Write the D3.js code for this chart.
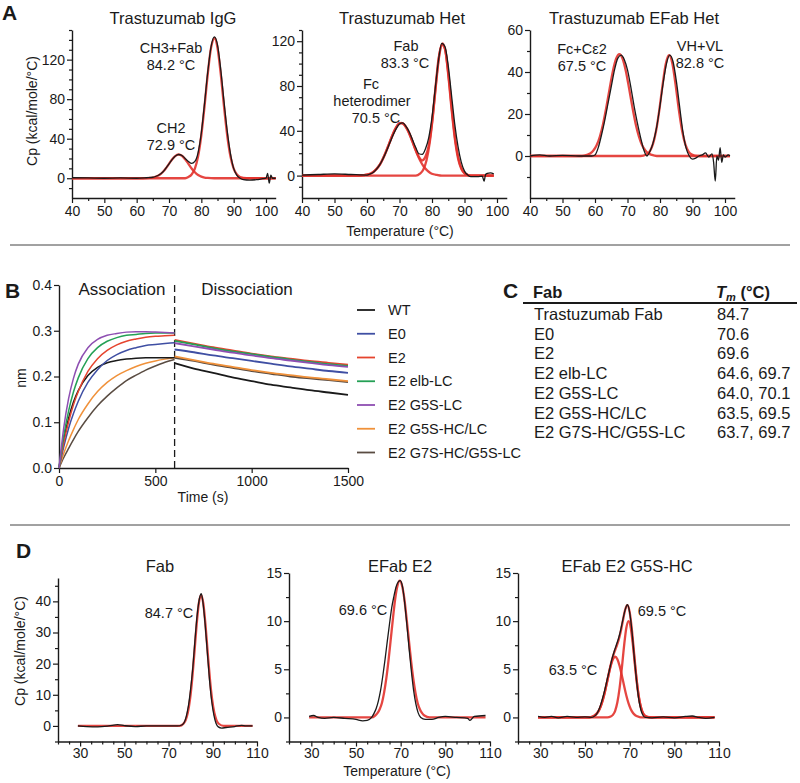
<!DOCTYPE html>
<html><head><meta charset="utf-8">
<script src="https://cdn.jsdelivr.net/npm/d3@7"></script>
<style>
body{margin:0;background:#fff;}
svg{display:block;}
</style></head><body>
<svg id="c" width="800" height="783"></svg>
<script>
// ---------------- Panel A data (DSC, Cp kcal/mole/°C vs Temperature °C) ----------------
const aTitles = ["Trastuzumab IgG", "Trastuzumab Het", "Trastuzumab EFab Het"];
const aXTicks = [40, 50, 60, 70, 80, 90, 100];
const aXMinor = [45, 55, 65, 75, 85, 95];
const aIgGYTicks = [0, 40, 80, 120];
const aHetYTicks = [0, 40, 80, 120];
const aEFabYTicks = [0, 20, 40, 60];

const aIgGData = [[40,0.5],[45,0.3],[50,0],[55,0.3],[60,0],[63,0.5],[65,1],[66,2],[67,3.5],[68,6],[69,10],[70,14.5],[71,19],[72,22.5],[73,24],[74,23],[75,20],[76,17],[77,15],[78,17],[79,26],[80,46],[81,76],[82,108],[83,133],[84,143],[85,135],[86,110],[87,78],[88,48],[89,25],[90,10],[91,3],[92,0],[93,-1.5],[95,-2],[97,-1.5],[99,-0.5],[100,0],[100.5,5],[101,-5],[101.5,3],[102,0],[103,0]];
const aIgGFitCH2 = [[40,0],[62,0],[64,0.3],[65,0.7],[66,1.6],[67,3.2],[68,6.0],[69,9.9],[70,14.6],[71,19.2],[72,22.7],[72.9,24],[74,22.7],[75,19.2],[76,14.6],[77,9.9],[78,6.0],[79,3.2],[80,1.6],[81,0.7],[82,0.3],[84,0],[103,0]];
const aIgGFitMain = [[40,0],[75,0],[76,1.2],[77,3.8],[78,9.8],[79,22.3],[80,43.5],[81,73],[82,105.6],[83,131.9],[84.2,142],[85,131.9],[86,105.6],[87,73],[88,43.5],[89,22.3],[90,9.8],[91,3.8],[92,1.2],[94,0],[103,0]];

const aHetData = [[40,0.5],[45,1],[50,1.5],[55,1],[60,0.5],[61,1.5],[62,3],[63,6],[64,10],[65,15.5],[66,22],[67,29],[68,36],[69,42],[70,46],[71,47],[72,44],[73,39],[74,32],[75,25],[76,19.5],[77,19],[78,24],[79,34],[80,52],[81,78],[82,103],[83,118],[84,115],[85,98],[86,72],[87,46],[88,26],[89,12],[90,4],[91,0.5],[92,-1],[94,-1],[95.5,-0.5],[96,-5],[96.5,1],[97,2],[98,2.5],[99,1.5]];
const aHetFitFc = [[40,0],[57,0],[58.5,0.3],[59.5,0.6],[60.5,1.2],[61.5,2.4],[62.5,4.6],[63.5,7.9],[64.5,12.6],[65.5,18.8],[66.5,26.2],[67.5,33.8],[68.5,40.6],[69.5,45.3],[70.5,47],[71.5,45.3],[72.5,40.6],[73.5,33.8],[74.5,26.2],[75.5,18.8],[76.5,12.6],[77.5,7.9],[78.5,4.6],[79.5,2.4],[80.5,1.2],[81.5,0.6],[83,0],[99,0]];
const aHetFitFab = [[40,0],[75,0],[76.3,1.7],[77.3,5.2],[78.3,13.5],[79.3,29.4],[80.3,54],[81.3,83.4],[82.3,108.2],[83.3,118],[84.3,108.2],[85.3,83.4],[86.3,54],[87.3,29.4],[88.3,13.5],[89.3,5.2],[90.3,1.7],[92,0],[99,0]];
const aHetFitSum = [[40,0],[58,0.2],[60,0.9],[62,3.4],[64,10],[66,22.5],[68,37],[69,43],[70,46.8],[71,46.6],[72,43.5],[73,38],[74,30.5],[75,22.7],[76,16.5],[77,13.5],[78,17],[79,27],[80,47],[81,76],[82,104],[83,117],[84,113],[85,90],[86,60],[87,33.5],[88,15.5],[89,6],[90,2],[91,0.5],[92,0],[99,0]];

const aEFabData = [[40,0],[43,0.5],[46,0],[50,0.3],[55,0],[59,0],[60,0.5],[61,4],[62,10],[63,17],[64,25],[65,33],[66,41],[67,46.5],[68,48],[69,46],[70,41],[71,33],[72,24],[73,16],[74,9],[75,3],[76,0],[77,2.5],[78,7],[79,14],[80,24],[81,35],[82,44],[83,48],[84,45],[85,36],[86,24],[87,12],[88,4],[89,0],[90,-1.5],[91,-1],[92,0],[93,0.5],[94,1.5],[95,-0.5],[96,1],[96.5,-3],[97,-12],[97.5,0],[98,-2],[98.5,4],[99,-3],[99.5,0.5],[100,-0.5],[101,0.5],[101.5,0]];
const aEFabFit1 = [[40,0],[56,0],[57.5,0.5],[58.5,1.2],[59.5,2.6],[60.5,5.1],[61.5,9.3],[62.5,15.4],[63.5,23.3],[64.5,32.1],[65.5,40.4],[66.5,46.3],[67.5,48.5],[68.5,46.3],[69.5,40.4],[70.5,32.1],[71.5,23.3],[72.5,15.4],[73.5,9.3],[74.5,5.1],[75.5,2.6],[76.5,1.2],[77.5,0.5],[79,0],[101.5,0]];
const aEFabFit2 = [[40,0],[74,0],[75.8,0.7],[76.8,2.1],[77.8,5.5],[78.8,12],[79.8,22],[80.8,33.9],[81.8,44],[82.8,48],[83.8,44],[84.8,33.9],[85.8,22],[86.8,12],[87.8,5.5],[88.8,2.1],[89.8,0.7],[91.5,0],[101.5,0]];

// ---------------- Panel B data (BLI, nm vs Time s) ----------------
const bNames = ["WT", "E0", "E2", "E2 elb-LC", "E2 G5S-LC", "E2 G5S-HC/LC", "E2 G7S-HC/G5S-LC"];
const bColors = ["#1a1a1a", "#3f4fa3", "#e5442e", "#24a055", "#8e4fb2", "#f0913a", "#5a4c42"];
const bXTicks = [0, 500, 1000, 1500];
const bYTicks = [0.0, 0.1, 0.2, 0.3, 0.4];
const bAssocTime = [0, 25, 50, 75, 100, 150, 200, 250, 300, 350, 400, 450, 500, 550, 600];
const bDissocTime = [600, 700, 800, 900, 1000, 1100, 1200, 1300, 1400, 1500];
const bAssocWT   = [0,0.063,0.109,0.144,0.169,0.202,0.220,0.230,0.235,0.238,0.240,0.241,0.241,0.241,0.241];
const bAssocE0   = [0,0.047,0.087,0.119,0.146,0.187,0.215,0.235,0.248,0.257,0.263,0.268,0.270,0.272,0.274];
const bAssocE2   = [0,0.056,0.101,0.138,0.167,0.211,0.239,0.257,0.269,0.277,0.282,0.286,0.288,0.289,0.290];
const bAssocElb  = [0,0.071,0.125,0.166,0.197,0.239,0.263,0.277,0.285,0.290,0.292,0.294,0.295,0.295,0.295];
const bAssocG5SLC= [0,0.089,0.152,0.196,0.227,0.263,0.281,0.290,0.294,0.297,0.298,0.298,0.297,0.296,0.295];
const bAssocG5SHC= [0,0.032,0.060,0.084,0.106,0.140,0.167,0.187,0.202,0.213,0.222,0.229,0.234,0.238,0.241];
const bAssocG7S  = [0,0.023,0.043,0.062,0.080,0.110,0.136,0.157,0.175,0.191,0.203,0.214,0.223,0.231,0.237];
const bDissWT    = [0.229,0.217,0.208,0.198,0.190,0.182,0.176,0.170,0.165,0.160];
const bDissE0    = [0.259,0.253,0.246,0.240,0.234,0.228,0.222,0.217,0.212,0.208];
const bDissE2    = [0.280,0.272,0.264,0.257,0.250,0.244,0.239,0.234,0.230,0.226];
const bDissElb   = [0.278,0.270,0.262,0.255,0.249,0.243,0.237,0.232,0.227,0.223];
const bDissG5SLC = [0.273,0.266,0.259,0.252,0.246,0.240,0.235,0.230,0.225,0.221];
const bDissG5SHC = [0.244,0.236,0.228,0.221,0.214,0.208,0.203,0.198,0.194,0.190];
const bDissG7S   = [0.241,0.234,0.226,0.219,0.212,0.206,0.200,0.196,0.192,0.188];

// ---------------- Panel C data (table) ----------------
const cFabNames = ["Trastuzumab Fab", "E0", "E2", "E2 elb-LC", "E2 G5S-LC", "E2 G5S-HC/LC", "E2 G7S-HC/G5S-LC"];
const cTmValues = ["84.7", "70.6", "69.6", "64.6, 69.7", "64.0, 70.1", "63.5, 69.5", "63.7, 69.7"];

// ---------------- Panel D data (DSC of Fabs) ----------------
const dTitles = ["Fab", "EFab E2", "EFab E2 G5S-HC"];
const dXTicks = [30, 50, 70, 90, 110];
const dXMinor = [20, 25, 35, 40, 45, 55, 60, 65, 75, 80, 85, 95, 100, 105];
const dFabYTicks = [0, 10, 20, 30, 40];
const dEFabYTicks = [0, 5, 10, 15];

const dFabData = [[29,0],[33,-0.2],[38,-0.3],[43,0],[47,0.4],[50,0.1],[55,-0.2],[60,0],[65,0],[70,0],[74,0],[76,0.3],[77,1],[78,3],[79,6.5],[80,12],[81,19],[82,28],[83,36],[84,41],[84.8,42.5],[85.5,40],[86.5,33],[87.5,24],[88.5,15],[89.5,8],[90.5,3.5],[91.5,0.8],[92.5,-0.3],[94,-0.7],[96,-0.5],[100,-0.2],[103,0.2],[105,0],[108,0]];
const dFabFit = [[29,0],[75,0],[76.7,0.7],[77.7,1.8],[78.7,4.2],[79.7,8.5],[80.7,15.1],[81.7,23.6],[82.7,32.5],[83.7,39.4],[84.7,42],[85.7,39.4],[86.7,32.5],[87.7,23.6],[88.7,15.1],[89.7,8.5],[90.7,4.2],[91.7,1.8],[92.7,0.7],[95,0],[108,0]];

const dE2Data = [[29,0.1],[31,0.2],[33,0],[36,-0.1],[40,0],[45,-0.1],[50,-0.2],[53,-0.35],[55,-0.3],[57,0],[58,0.4],[59,0.9],[60,1.7],[61,2.8],[62,4.3],[63,6.0],[64,7.9],[65,9.7],[66,11.4],[67,12.6],[68,13.6],[69,14.1],[69.8,14.2],[70.8,13.6],[71.8,11.9],[72.8,9.6],[73.8,7.1],[74.8,4.8],[75.8,2.8],[76.8,1.4],[77.8,0.5],[79,0],[81,-0.2],[84,-0.2],[87,0],[90,0.1],[95,0],[100,-0.1],[101,-0.3],[103,0.1],[108,0.2]];
const dE2Fit = [[29,0],[57,0],[58.6,0.2],[59.6,0.44],[60.6,0.85],[61.6,1.5],[62.6,2.6],[63.6,4.1],[64.6,6.0],[65.6,8.2],[66.6,10.4],[67.6,12.4],[68.6,13.7],[69.6,14.2],[70.6,13.7],[71.6,12.4],[72.6,10.4],[73.6,8.2],[74.6,6.0],[75.6,4.1],[76.6,2.6],[77.6,1.5],[78.6,0.85],[79.6,0.44],[80.6,0.2],[83,0],[108,0]];

const dG5SData = [[29,0.1],[32,0],[35,0.1],[38,-0.05],[42,0.1],[46,0],[50,0.05],[53,0],[54,0.1],[55,0.3],[56,0.7],[57,1.3],[58,2.1],[59,3.0],[60,4.0],[61,5.0],[62,6.0],[63,6.8],[64,7.5],[65,8.2],[66,9.1],[67,10.2],[68,11.2],[69,11.7],[70,10.9],[71,9.0],[72,6.4],[73,4.0],[74,2.0],[75,0.8],[76,0.2],[77,0],[80,-0.05],[85,0.05],[90,-0.05],[95,0.1],[98,0.15],[101,0],[104,-0.1],[108,0]];
const dG5SFitSum = [[29,0],[52,0],[54,0.16],[56,0.63],[57,1.12],[58,1.83],[59,2.75],[60,3.82],[61,4.93],[62,5.9],[63,6.68],[64,7.31],[65,7.99],[66,8.92],[67,10.1],[68,11.2],[69,11.65],[70,10.94],[71,9.1],[72,6.63],[73,4.2],[74,2.31],[75,1.1],[76,0.44],[77,0.16],[78,0.05],[80,0],[108,0]];
const dG5SFit1 = [[29,0],[52,0],[53.5,0.11],[54.5,0.23],[55.5,0.46],[56.5,0.85],[57.5,1.45],[58.5,2.27],[59.5,3.28],[60.5,4.36],[61.5,5.35],[62.5,6.05],[63.5,6.3],[64.5,6.05],[65.5,5.35],[66.5,4.36],[67.5,3.28],[68.5,2.27],[69.5,1.45],[70.5,0.85],[71.5,0.46],[72.5,0.23],[73.5,0.11],[75,0],[108,0]];
const dG5SFit2 = [[29,0],[60,0],[61.5,0.09],[62.5,0.27],[63.5,0.69],[64.5,1.57],[65.5,3.06],[66.5,5.14],[67.5,7.44],[68.5,9.29],[69.5,10],[70.5,9.29],[71.5,7.44],[72.5,5.14],[73.5,3.06],[74.5,1.57],[75.5,0.69],[76.5,0.27],[77.5,0.09],[79,0],[108,0]];

// ---------------- drawing ----------------
const FONT = "'Liberation Sans', Arial, Helvetica, sans-serif";
const INK = "#1a1a1a", RED = "#e2322c";
const svg = d3.select("#c").attr("font-family", FONT);

function styleAxis(sel, fs) {
  sel.attr("font-family", FONT).attr("font-size", fs || 14);
  sel.select(".domain").attr("stroke", INK).attr("stroke-width", 1.4);
  sel.selectAll(".tick line").attr("stroke", INK).attr("stroke-width", 1.2);
  sel.selectAll(".tick text").attr("fill", INK);
}
function txt(x, y, s, size, opts) {
  opts = opts || {};
  const t = svg.append("text").attr("x", x).attr("y", y).attr("fill", INK)
    .attr("font-size", size).attr("text-anchor", opts.anchor || "middle").text(s);
  if (opts.bold) t.attr("font-weight", "bold");
  if (opts.rotate) t.attr("transform", `rotate(-90,${x},${y})`);
  return t;
}

function dscPanel(o) {
  const x = d3.scaleLinear().domain(o.xDomain).range([o.left, o.right]);
  const y = d3.scaleLinear().domain(o.yDomain).range([o.bottom, o.top]);
  const g = svg.append("g");
  const gxm = g.append("g").attr("transform", `translate(0,${o.bottom})`)
    .call(d3.axisBottom(x).tickValues(o.xMinor).tickSize(3).tickFormat(""));
  gxm.select(".domain").remove();
  const gym = g.append("g").attr("transform", `translate(${o.left},0)`)
    .call(d3.axisLeft(y).tickValues(o.yMinor).tickSize(3).tickFormat(""));
  gym.select(".domain").remove();
  const gx = g.append("g").attr("transform", `translate(0,${o.bottom})`)
    .call(d3.axisBottom(x).tickValues(o.xTicks).tickSize(5).tickSizeOuter(0).tickPadding(o.xPad || 3).tickFormat(d3.format("d")));
  const gy = g.append("g").attr("transform", `translate(${o.left},0)`)
    .call(d3.axisLeft(y).tickValues(o.yTicks).tickSize(5).tickSizeOuter(0).tickPadding(2).tickFormat(d3.format("d")));
  [gxm, gym, gx, gy].forEach(s => styleAxis(s, 14));
  const line = d3.line().x(d => x(d[0])).y(d => y(d[1])).curve(d3.curveMonotoneX);
  o.fits.forEach(f => g.append("path").attr("d", line(f)).attr("fill", "none")
    .attr("stroke", RED).attr("stroke-width", 2.3).attr("stroke-opacity", 0.9));
  g.append("path").attr("d", line(o.data)).attr("fill", "none")
    .attr("stroke", INK).attr("stroke-width", 1.3);
  txt(o.titleX, o.titleY, o.title, o.titleSize || 16.5);
  (o.labels || []).forEach(l => txt(l[0], l[1], l[2], 14.5));
}

// Panel A
txt(2, 20, "A", 21, {anchor: "start", bold: true});
dscPanel({left: 72, right: 275.7, bottom: 198, top: 30, xDomain: [40, 103], yDomain: [-20, 150],
  xTicks: aXTicks, xMinor: aXMinor, yTicks: aIgGYTicks, yMinor: [-10,10,20,30,50,60,70,90,100,110,130,140,150],
  data: aIgGData, fits: [aIgGFitCH2, aIgGFitMain], title: aTitles[0], titleX: 173, titleY: 24,
  labels: [[171, 53, "CH3+Fab"], [171, 69.5, "84.2 °C"], [171, 133, "CH2"], [171, 150, "72.9 °C"]]});
dscPanel({left: 302, right: 506.75, bottom: 198, top: 30, xDomain: [40, 103], yDomain: [-20, 130],
  xTicks: aXTicks, xMinor: aXMinor, yTicks: aHetYTicks, yMinor: [-10,10,20,30,50,60,70,90,100,110,130],
  data: aHetData, fits: [aHetFitFc, aHetFitFab, aHetFitSum], title: aTitles[1], titleX: 402, titleY: 24,
  labels: [[406, 51, "Fab"], [405, 67.5, "83.3 °C"], [371, 89, "Fc"], [372, 105.5, "heterodimer"], [376, 122.5, "70.5 °C"]]});
dscPanel({left: 530, right: 734.75, bottom: 198, top: 30, xDomain: [40, 103], yDomain: [-20, 60],
  xTicks: aXTicks, xMinor: aXMinor, yTicks: aEFabYTicks, yMinor: [-10,10,30,50],
  data: aEFabData, fits: [aEFabFit1, aEFabFit2], title: aTitles[2], titleX: 634, titleY: 24,
  labels: [[582, 54, "Fc+Cε2"], [582, 70.5, "67.5 °C"], [700, 51, "VH+VL"], [700, 67.5, "82.8 °C"]]});
txt(37, 111, "Cp (kcal/mole/°C)", 14, {rotate: true});
txt(400, 236, "Temperature (°C)", 14);

// separators
svg.append("line").attr("x1", 10).attr("x2", 790).attr("y1", 245).attr("y2", 245).attr("stroke", "#444").attr("stroke-width", 1);
svg.append("line").attr("x1", 10).attr("x2", 790).attr("y1", 525).attr("y2", 525).attr("stroke", "#444").attr("stroke-width", 1);

// Panel B
txt(5, 298, "B", 21, {anchor: "start", bold: true});
{
  const x = d3.scaleLinear().domain([0, 1500]).range([59, 348]);
  const y = d3.scaleLinear().domain([0, 0.4]).range([468, 285]);
  const g = svg.append("g");
  const gx = g.append("g").attr("transform", `translate(0,468)`)
    .call(d3.axisBottom(x).tickValues(bXTicks).tickSize(5).tickSizeOuter(0).tickPadding(3).tickFormat(d3.format("d")));
  const gy = g.append("g").attr("transform", `translate(59,0)`)
    .call(d3.axisLeft(y).tickValues(bYTicks).tickSize(5).tickSizeOuter(0).tickPadding(2).tickFormat(d3.format(".1f")));
  [gx, gy].forEach(s => styleAxis(s, 14));
  g.append("line").attr("x1", x(600)).attr("x2", x(600)).attr("y1", y(0.4)).attr("y2", y(0))
    .attr("stroke", INK).attr("stroke-width", 1.3).attr("stroke-dasharray", "7,4");
  const assoc = [bAssocWT, bAssocE0, bAssocE2, bAssocElb, bAssocG5SLC, bAssocG5SHC, bAssocG7S];
  const diss = [bDissWT, bDissE0, bDissE2, bDissElb, bDissG5SLC, bDissG5SHC, bDissG7S];
  const line = d3.line().x(d => x(d[0])).y(d => y(d[1])).curve(d3.curveMonotoneX);
  const order = [6, 5, 0, 1, 2, 3, 4];
  order.forEach(i => {
    g.append("path").attr("d", line(bAssocTime.map((t, k) => [t, assoc[i][k]])))
      .attr("fill", "none").attr("stroke", bColors[i]).attr("stroke-width", 1.5);
    g.append("path").attr("d", line(bDissocTime.map((t, k) => [t, diss[i][k]])))
      .attr("fill", "none").attr("stroke", bColors[i]).attr("stroke-width", 1.8);
  });
  txt(122, 295, "Association", 17);
  txt(247, 295, "Dissociation", 17);
  txt(203, 502, "Time (s)", 14);
  txt(26, 378, "nm", 14, {rotate: true});
  // legend
  bNames.forEach((n, i) => {
    const ly = 310 + i * 23.75;
    g.append("line").attr("x1", 357).attr("x2", 375).attr("y1", ly).attr("y2", ly)
      .attr("stroke", bColors[i]).attr("stroke-width", 1.8);
    txt(388, ly + 5, n, 14.5, {anchor: "start"});
  });
}

// Panel C
txt(503, 298, "C", 21, {anchor: "start", bold: true});
{
  txt(533, 298, "Fab", 16.5, {anchor: "start", bold: true});
  const h = svg.append("text").attr("x", 716).attr("y", 298).attr("fill", INK).attr("font-size", 16.5)
    .attr("font-weight", "bold");
  h.append("tspan").attr("font-style", "italic").text("T");
  h.append("tspan").attr("font-style", "italic").attr("font-size", 11).attr("dy", 3).text("m");
  h.append("tspan").attr("dy", -3).text(" (°C)");
  svg.append("line").attr("x1", 523).attr("x2", 797).attr("y1", 303).attr("y2", 303)
    .attr("stroke", INK).attr("stroke-width", 1.8);
  cFabNames.forEach((n, i) => {
    const yy = 320 + i * 19.7;
    txt(534, yy, n, 16.5, {anchor: "start"});
    txt(717, yy, cTmValues[i], 16.5, {anchor: "start"});
  });
}

// Panel D
txt(16, 558, "D", 21, {anchor: "start", bold: true});
dscPanel({left: 58, right: 257, bottom: 741.5, top: 578, xDomain: [20, 110], yDomain: [-5, 47.5], xPad: 2,
  xTicks: dXTicks, xMinor: dXMinor, yTicks: dFabYTicks, yMinor: [-5,5,15,25,35,45],
  data: dFabData, fits: [dFabFit], title: dTitles[0], titleX: 160, titleY: 572,
  labels: [[169, 618, "84.7 °C"]]});
dscPanel({left: 289, right: 490, bottom: 741.5, top: 573, xDomain: [20, 110], yDomain: [-2.5, 15], xPad: 2,
  xTicks: dXTicks, xMinor: dXMinor, yTicks: dEFabYTicks, yMinor: [-2.5,2.5,7.5,12.5],
  data: dE2Data, fits: [dE2Fit], title: dTitles[1], titleX: 400, titleY: 572,
  labels: [[363, 615, "69.6 °C"]]});
dscPanel({left: 518, right: 719, bottom: 741.5, top: 573, xDomain: [20, 110], yDomain: [-2.5, 15], xPad: 2,
  xTicks: dXTicks, xMinor: dXMinor, yTicks: dEFabYTicks, yMinor: [-2.5,2.5,7.5,12.5],
  data: dG5SData, fits: [dG5SFit1, dG5SFit2, dG5SFitSum], title: dTitles[2], titleX: 627, titleY: 572,
  labels: [[662, 616, "69.5 °C"], [573, 675, "63.5 °C"]]});
txt(25, 651, "Cp (kcal/mole/°C)", 14, {rotate: true});
txt(397, 776, "Temperature (°C)", 14);
</script>
</body></html>
